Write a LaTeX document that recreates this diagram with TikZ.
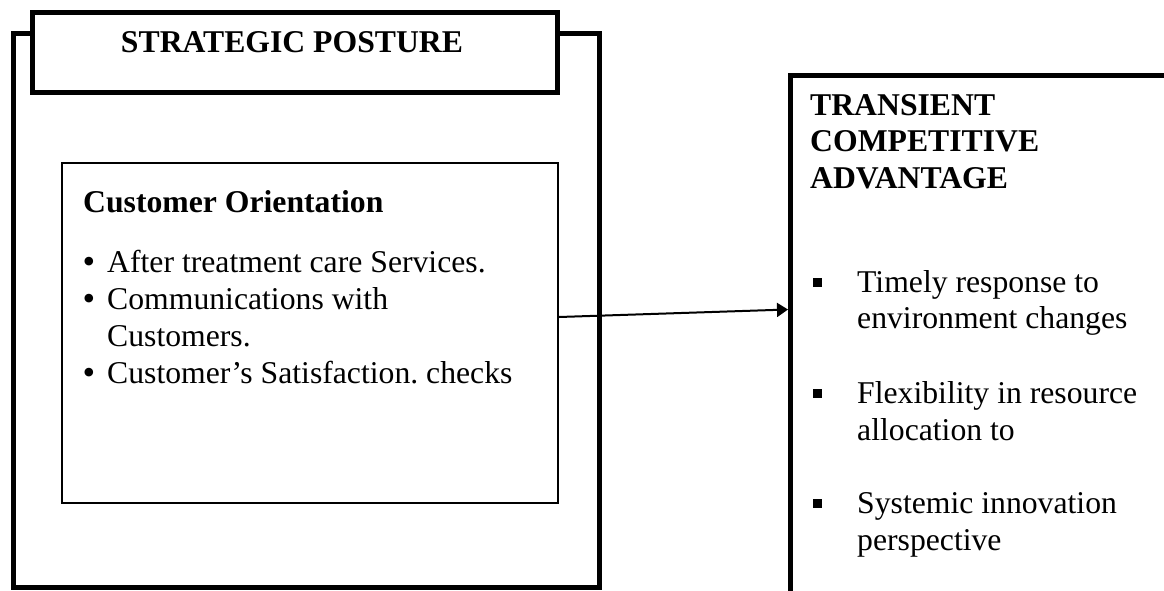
\documentclass[tikz,border=0pt]{standalone}
\usepackage{fontspec}
\setmainfont{Liberation Serif}
\usetikzlibrary{positioning,arrows.meta}

\begin{document}
\begin{tikzpicture}[x=1pt, y=-1pt,
    frame/.style={draw, rectangle, line width=5pt, inner sep=0pt, anchor=north west},
    inbox/.style={draw, rectangle, line width=2pt, inner sep=0pt, anchor=north west},
    txt/.style={inner sep=0pt, anchor=base west, font=\fontsize{31.7pt}{37pt}\selectfont},
    head/.style={txt, font=\fontsize{31.7pt}{37pt}\selectfont\bfseries},
    bulsq/.style={fill, rectangle, minimum size=9pt, inner sep=0pt}
    ]
    \useasboundingbox (0,0) rectangle (1164,590);
    \clip (0,0) rectangle (1164,590);

    % strategic posture side
    \node[frame, minimum width=586pt, minimum height=554pt] (posture) at (11,31) {};
    \node[frame, fill=white, minimum width=525pt, minimum height=80pt] (title) at (30,10) {};
    \node[head, anchor=base] (title_text) at (292,52) {STRATEGIC POSTURE};

    \node[inbox, minimum width=496pt, minimum height=340pt] (custbox) at (61,162) {};
    \node[head] (cust_head) at (83,212) {Customer Orientation};
    \node[txt, anchor=base, font=\fontsize{36pt}{37pt}\selectfont] (dot1) at (89,273) {•};
    \node[txt] (after) at (107,272) {After treatment care Services.};
    \node[txt, anchor=base, font=\fontsize{36pt}{37pt}\selectfont] (dot2) at (89,310) {•};
    \node[txt] (comm) at (107,309) {Communications with};
    \node[txt] (comm2) at (107,346) {Customers.};
    \node[txt, anchor=base, font=\fontsize{36pt}{37pt}\selectfont] (dot3) at (89,384) {•};
    \node[txt] (satisf) at (107,383) {Customer’s Satisfaction.\ checks};

    % transient competitive advantage side
    \node[frame, minimum width=420pt, minimum height=560pt] (advbox) at (788,73) {};
    \foreach \word [count=\i from 0] in {TRANSIENT, COMPETITIVE, ADVANTAGE} {
      \node[head] (adv_head\i) at (810,115+36.5*\i) {\word};
    };
    \node[bulsq] (sq1) at (817,282) {};
    \node[txt] (timely) at (857,292) {Timely response to};
    \node[txt] (timely2) at (857,328) {environment changes};
    \node[bulsq] (sq2) at (817,393) {};
    \node[txt] (flex) at (857,403) {Flexibility in resource};
    \node[txt] (flex2) at (857,440) {allocation to};
    \node[bulsq] (sq3) at (817,503) {};
    \node[txt] (innov) at (857,513) {Systemic innovation};
    \node[txt] (innov2) at (857,550) {perspective};

    \draw[line width=2pt, -{Triangle[length=11pt, width=14pt]}] ([yshift=16pt]custbox.east) to ([yshift=46pt]advbox.west);
  \end{tikzpicture}
\end{document}
